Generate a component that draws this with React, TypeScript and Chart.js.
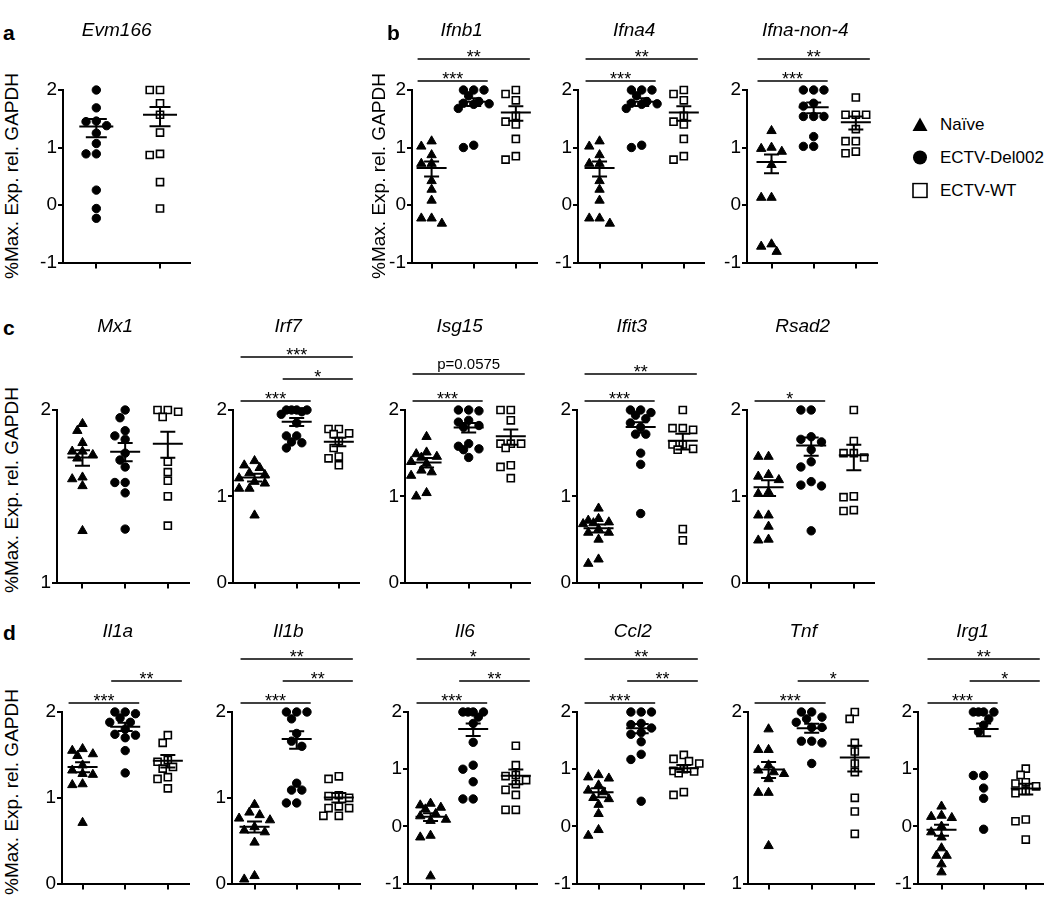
import React, { useEffect, useRef } from 'react';
import { Chart, registerables } from 'chart.js';

Chart.register(...registerables);

const FONT = "Arial, 'Liberation Sans', Helvetica, sans-serif";

// ---------- labels ----------
const groupNames = ['Naïve', 'ECTV-Del002', 'ECTV-WT'];
const yAxisTitle = '%Max. Exp. rel. GAPDH';
const ticksM1to2 = [-1, 0, 1, 2];
const ticks0to2 = [0, 1, 2];
const ticks1to2 = [1, 2];

// ---------- data (log10 of % max expression) ----------
const evm166Del = [2.0, 1.69, 1.46, 1.45, 1.38, 1.25, 1.07, 0.89, 0.89, 0.26, -0.06, -0.23];
const evm166WT = [2.0, 2.0, 1.77, 1.57, 1.26, 0.87, 0.89, 0.4, -0.06];

const ifnb1Naive = [1.11, 1.02, 0.87, 0.72, 0.72, 0.42, 0.27, 0.08, -0.23, -0.32, -0.23];
const ifnb1Del = [2.0, 2.0, 2.0, 1.9, 1.8, 1.77, 1.76, 1.75, 1.68, 1.0, 1.04];
const ifnb1WT = [1.93, 2.0, 1.82, 1.55, 1.4, 1.45, 1.15, 0.79, 0.85];

const ifna4Naive = [1.11, 1.02, 0.87, 0.72, 0.72, 0.42, 0.27, 0.08, -0.23, -0.32, -0.23];
const ifna4Del = [2.0, 2.0, 2.0, 1.9, 1.8, 1.77, 1.76, 1.75, 1.68, 1.0, 1.04];
const ifna4WT = [1.93, 2.0, 1.82, 1.55, 1.4, 1.45, 1.15, 0.79, 0.85];

const ifnaN4Naive = [1.29, 1.0, 0.98, 0.93, 0.7, 0.13, 0.13, -0.68, -0.81, -0.72];
const ifnaN4Del = [2.0, 2.0, 2.0, 1.77, 1.72, 1.54, 1.54, 1.54, 1.19, 1.02, 1.02];
const ifnaN4WT = [1.87, 1.57, 1.57, 1.57, 1.32, 1.11, 1.11, 0.9, 0.93];

const mx1Naive = [1.92, 1.88, 1.81, 1.76, 1.76, 1.74, 1.72, 1.6, 1.61, 1.56, 1.3];
const mx1Del = [2.0, 1.955, 1.88, 1.85, 1.83, 1.75, 1.71, 1.67, 1.58, 1.58, 1.52, 1.31];
const mx1WT = [2.0, 2.0, 1.99, 1.96, 1.7, 1.64, 1.59, 1.5, 1.33];

const irf7Naive = [1.41, 1.36, 1.33, 1.27, 1.25, 1.21, 1.17, 1.15, 1.09, 1.09, 0.78];
const irf7Del = [2.0, 2.0, 2.0, 2.0, 1.98, 1.95, 1.85, 1.7, 1.7, 1.63, 1.62, 1.56];
const irf7WT = [1.78, 1.78, 1.73, 1.72, 1.64, 1.56, 1.46, 1.44, 1.36];

const isg15Naive = [1.69, 1.51, 1.49, 1.46, 1.45, 1.4, 1.38, 1.3, 1.28, 1.24, 1.0, 1.04];
const isg15Del = [2.0, 2.0, 1.99, 1.88, 1.86, 1.82, 1.8, 1.61, 1.58, 1.55, 1.54, 1.45];
const isg15WT = [2.0, 2.0, 1.88, 1.61, 1.61, 1.61, 1.56, 1.36, 1.34, 1.21];

const ifit3Naive = [0.86, 0.74, 0.72, 0.7, 0.69, 0.68, 0.62, 0.58, 0.58, 0.5, 0.27, 0.22];
const ifit3Del = [2.0, 2.0, 1.97, 1.94, 1.9, 1.85, 1.8, 1.72, 1.72, 1.5, 1.37, 0.8];
const ifit3WT = [2.0, 1.79, 1.79, 1.77, 1.6, 1.6, 1.55, 1.54, 0.62, 0.49];

const rsad2Naive = [1.46, 1.46, 1.25, 1.23, 1.19, 1.05, 1.03, 0.78, 0.78, 0.65, 0.5, 0.49];
const rsad2Del = [2.0, 2.0, 1.69, 1.66, 1.63, 1.54, 1.4, 1.34, 1.17, 1.13, 1.12, 0.6];
const rsad2WT = [2.0, 1.64, 1.5, 1.5, 1.45, 1.0, 0.99, 0.83, 0.84];

const il1aNaive = [1.57, 1.55, 1.51, 1.49, 1.38, 1.32, 1.28, 1.27, 1.16, 1.15, 0.71];
const il1aDel = [2.0, 2.0, 1.98, 1.93, 1.88, 1.88, 1.8, 1.74, 1.73, 1.7, 1.55, 1.29];
const il1aWT = [1.73, 1.64, 1.44, 1.42, 1.36, 1.34, 1.24, 1.22, 1.11];

const il1bNaive = [0.92, 0.83, 0.8, 0.76, 0.74, 0.66, 0.62, 0.6, 0.48, 0.09, 0.05];
const il1bDel = [2.0, 2.0, 2.0, 1.92, 1.75, 1.66, 1.6, 1.17, 1.09, 1.09, 0.94, 0.94];
const il1bWT = [1.25, 1.22, 1.03, 1.02, 1.0, 0.9, 0.88, 0.88, 0.79, 0.79];

const il6Naive = [0.4, 0.37, 0.33, 0.3, 0.22, 0.18, 0.12, 0.1, -0.16, -0.19, -0.87];
const il6Del = [2.0, 2.0, 2.0, 2.0, 1.91, 1.8, 1.47, 1.07, 1.0, 0.78, 0.48, 0.48];
const il6WT = [1.41, 1.07, 0.9, 0.88, 0.81, 0.74, 0.64, 0.55, 0.29, 0.29];

const ccl2Naive = [0.9, 0.86, 0.84, 0.72, 0.63, 0.6, 0.5, 0.48, 0.38, 0.22, -0.06, -0.16];
const ccl2Del = [2.0, 2.0, 2.0, 1.8, 1.78, 1.72, 1.64, 1.61, 1.48, 1.26, 1.17, 0.44];
const ccl2WT = [1.25, 1.18, 1.14, 1.1, 1.0, 0.97, 0.96, 0.93, 0.6, 0.55];

const tnfNaive = [1.9, 1.78, 1.78, 1.69, 1.66, 1.65, 1.64, 1.61, 1.53, 1.53, 1.22];
const tnfDel = [2.0, 2.0, 1.97, 1.96, 1.94, 1.91, 1.91, 1.83, 1.82, 1.83, 1.7];
const tnfWT = [2.0, 1.96, 1.82, 1.77, 1.7, 1.65, 1.5, 1.42, 1.29];

const irg1Naive = [0.35, 0.19, 0.17, 0.15, 0.0, -0.1, -0.19, -0.38, -0.51, -0.51, -0.66, -0.8];
const irg1Del = [2.0, 2.0, 2.0, 2.0, 1.88, 1.77, 1.65, 0.89, 0.89, 0.67, 0.49, -0.05];
const irg1WT = [1.01, 0.9, 0.77, 0.75, 0.7, 0.62, 0.58, 0.12, 0.09, -0.23];

// ---------- significance annotations (group a vs group b, stacking level, label) ----------
const sigIfn = [
  { a: 1, b: 3, level: 1, label: '**' },
  { a: 1, b: 2, level: 0, label: '***' },
];
const sigIrf7 = [
  { a: 1, b: 3, level: 2, label: '***' },
  { a: 2, b: 3, level: 1, label: '*' },
  { a: 1, b: 2, level: 0, label: '***' },
];
const sigIsg15 = [
  { a: 1, b: 3, level: 1, label: 'p=0.0575' },
  { a: 1, b: 2, level: 0, label: '***' },
];
const sigIfit3 = [
  { a: 1, b: 3, level: 1, label: '**' },
  { a: 1, b: 2, level: 0, label: '***' },
];
const sigRsad2 = [{ a: 1, b: 2, level: 0, label: '*' }];
const sigIl1a = [
  { a: 2, b: 3, level: 1, label: '**' },
  { a: 1, b: 2, level: 0, label: '***' },
];
const sigIl1b = [
  { a: 1, b: 3, level: 2, label: '**' },
  { a: 2, b: 3, level: 1, label: '**' },
  { a: 1, b: 2, level: 0, label: '***' },
];
const sigIl6 = [
  { a: 1, b: 3, level: 2, label: '*' },
  { a: 2, b: 3, level: 1, label: '**' },
  { a: 1, b: 2, level: 0, label: '***' },
];
const sigCcl2 = [
  { a: 1, b: 3, level: 2, label: '**' },
  { a: 2, b: 3, level: 1, label: '**' },
  { a: 1, b: 2, level: 0, label: '***' },
];
const sigTnf = [
  { a: 2, b: 3, level: 1, label: '*' },
  { a: 1, b: 2, level: 0, label: '***' },
];
const sigIrg1 = [
  { a: 1, b: 3, level: 2, label: '**' },
  { a: 2, b: 3, level: 1, label: '*' },
  { a: 1, b: 2, level: 0, label: '***' },
];

// ---------- layout ----------
type Marker = 'triangle' | 'circle' | 'square';
const ROW_AB = { top: 90, bottom: 263, canvasTop: 8, titleY: 31 };
const ROW_C = { top: 410, bottom: 583, canvasTop: 305, titleY: 327 };
const ROW_D = { top: 712, bottom: 884, canvasTop: 612, titleY: 632 };
const Y_AXIS_W = 34;
const X_AXIS_H = 12;
const PAD_R = 4;
const HALF_STEP = 5.25;
const MAX_K = 3;
const DIAM = 8;
const LEVELS = [9, 31, 53];
const TRI: Marker[] = ['triangle', 'circle', 'square'];

const MARKERS: Record<Marker, any> = {
  triangle: { pointStyle: 'triangle', pointRadius: 5.4, pointBackgroundColor: '#000', pointBorderColor: '#000', pointBorderWidth: 1 },
  circle: { pointStyle: 'circle', pointRadius: 4.2, pointBackgroundColor: '#000', pointBorderColor: '#000', pointBorderWidth: 1 },
  square: { pointStyle: 'rect', pointRadius: 5.0, pointBackgroundColor: '#fff', pointBorderColor: '#000', pointBorderWidth: 1.6 },
};

const panels: any[] = [
  { title: 'Evm166', series: [evm166Del, evm166WT], markers: ['circle', 'square'], sigs: [], yTicks: ticksM1to2, row: ROW_AB, ax: 63, axR: 193, t1: 97, dt: 65, meanHalf: 17, capHalf: 10.5, titleDx: -10 },
  { title: 'Ifnb1', series: [ifnb1Naive, ifnb1Del, ifnb1WT], markers: TRI, sigs: sigIfn, yTicks: ticksM1to2, row: ROW_AB, ax: 412, axR: 540, t1: 432, dt: 43, titleDx: -13 },
  { title: 'Ifna4', series: [ifna4Naive, ifna4Del, ifna4WT], markers: TRI, sigs: sigIfn, yTicks: ticksM1to2, row: ROW_AB, ax: 578, axR: 707, t1: 600, dt: 43, titleDx: -7 },
  { title: 'Ifna-non-4', series: [ifnaN4Naive, ifnaN4Del, ifnaN4WT], markers: TRI, sigs: sigIfn, yTicks: ticksM1to2, row: ROW_AB, ax: 747, axR: 880, t1: 772, dt: 43, titleDx: -7 },
  { title: 'Mx1', series: [mx1Naive, mx1Del, mx1WT], markers: TRI, sigs: [], yTicks: ticks1to2, row: ROW_C, ax: 57, axR: 192, t1: 83, dt: 43.5 },
  { title: 'Irf7', series: [irf7Naive, irf7Del, irf7WT], markers: TRI, sigs: sigIrf7, yTicks: ticks0to2, row: ROW_C, ax: 233, axR: 362, t1: 255, dt: 43 },
  { title: 'Isg15', series: [isg15Naive, isg15Del, isg15WT], markers: TRI, sigs: sigIsg15, yTicks: ticks0to2, row: ROW_C, ax: 405, axR: 533, t1: 427, dt: 43, levels: [9, 36, 53] },
  { title: 'Ifit3', series: [ifit3Naive, ifit3Del, ifit3WT], markers: TRI, sigs: sigIfit3, yTicks: ticks0to2, row: ROW_C, ax: 577, axR: 705, t1: 599, dt: 43, levels: [9, 36, 53] },
  { title: 'Rsad2', series: [rsad2Naive, rsad2Del, rsad2WT], markers: TRI, sigs: sigRsad2, yTicks: ticks0to2, row: ROW_C, ax: 747, axR: 877, t1: 769, dt: 43.5 },
  { title: 'Il1a', series: [il1aNaive, il1aDel, il1aWT], markers: TRI, sigs: sigIl1a, yTicks: ticks0to2, row: ROW_D, ax: 62, axR: 192, t1: 83, dt: 43.5 },
  { title: 'Il1b', series: [il1bNaive, il1bDel, il1bWT], markers: TRI, sigs: sigIl1b, yTicks: ticks0to2, row: ROW_D, ax: 232, axR: 363, t1: 255, dt: 43 },
  { title: 'Il6', series: [il6Naive, il6Del, il6WT], markers: TRI, sigs: sigIl6, yTicks: ticksM1to2, row: ROW_D, ax: 408, axR: 540, t1: 431, dt: 43.5 },
  { title: 'Ccl2', series: [ccl2Naive, ccl2Del, ccl2WT], markers: TRI, sigs: sigCcl2, yTicks: ticksM1to2, row: ROW_D, ax: 577, axR: 707, t1: 599, dt: 43.5 },
  { title: 'Tnf', series: [tnfNaive, tnfDel, tnfWT], markers: TRI, sigs: sigTnf, yTicks: ticks1to2, row: ROW_D, ax: 748, axR: 877, t1: 769, dt: 44 },
  { title: 'Irg1', series: [irg1Naive, irg1Del, irg1WT], markers: TRI, sigs: sigIrg1, yTicks: ticksM1to2, row: ROW_D, ax: 918, axR: 1046, t1: 942, dt: 43 },
];

// beeswarm: spread points sideways (in half-marker steps, limited width) when they would overlap
function swarm(values: number[], ppu: number): number[] {
  const idx = values.map((_, i) => i).sort((i, j) => values[j] - values[i]);
  const offs = new Array(values.length).fill(0);
  const placed: { y: number; x: number }[] = [];
  const cands: number[] = [0];
  for (let k = 1; k <= MAX_K; k++) { cands.push(-k * HALF_STEP, k * HALF_STEP); }
  for (const id of idx) {
    const py = values[id] * ppu;
    let best = 0;
    let bestOverlap = Infinity;
    for (const c of cands) {
      let overlap = 0;
      for (const q of placed) {
        const d = Math.hypot(q.x - c, q.y - py);
        if (d < DIAM) overlap = Math.max(overlap, DIAM - d);
      }
      if (overlap < bestOverlap - 0.01) { bestOverlap = overlap; best = c; }
      if (overlap <= 0.01) break;
    }
    offs[id] = best;
    placed.push({ y: py, x: best });
  }
  return offs;
}

function geom(p: any) {
  const left = p.ax - Y_AXIS_W;
  const width = p.axR - p.ax + Y_AXIS_W + PAD_R;
  const height = p.row.bottom + X_AXIS_H - p.row.canvasTop;
  return { left, width, height, top: p.row.canvasTop };
}

function buildChart(canvas: HTMLCanvasElement, p: any) {
  const yMin = p.yTicks[0];
  const yMax = p.yTicks[p.yTicks.length - 1];
  const ppu = (p.row.bottom - p.row.top) / (yMax - yMin);
  const xMin = 1 - (p.t1 - p.ax) / p.dt;
  const xMax = 1 + (p.axR - p.t1) / p.dt;
  const levels = p.levels || LEVELS;
  const meanHalf = p.meanHalf || 15;
  const capHalf = p.capHalf || 7.5;
  const titleDx = p.titleDx === undefined ? -8 : p.titleDx;

  const datasets = p.series.map((vals: number[], gi: number) => {
    const offs = swarm(vals, ppu);
    return {
      label: groupNames[gi],
      data: vals.map((v, i) => ({ x: gi + 1 + offs[i] / p.dt, y: Math.pow(10, v) })),
      clip: false,
      showLine: false,
      ...MARKERS[p.markers[gi] as Marker],
    };
  });

  const decor = {
    id: 'decor',
    afterDatasetsDraw(chart: any) {
      const { ctx, chartArea } = chart;
      const xs = chart.scales.x;
      const ys = chart.scales.y;
      ctx.save();
      ctx.strokeStyle = '#000';
      ctx.fillStyle = '#000';
      ctx.lineCap = 'butt';
      // mean ± SEM (computed on linear values, drawn on the log axis)
      ctx.lineWidth = 2;
      p.series.forEach((vals: number[], gi: number) => {
        const raw = vals.map((v) => Math.pow(10, v));
        const n = raw.length;
        const mean = raw.reduce((s, r) => s + r, 0) / n;
        const sd = Math.sqrt(raw.reduce((s, r) => s + (r - mean) * (r - mean), 0) / (n - 1));
        const sem = sd / Math.sqrt(n);
        const cx = xs.getPixelForValue(gi + 1);
        const ym = ys.getPixelForValue(mean);
        const yt = ys.getPixelForValue(mean + sem);
        const yb = mean - sem > 0 ? ys.getPixelForValue(mean - sem) : chartArea.bottom;
        ctx.beginPath();
        ctx.moveTo(cx - meanHalf, ym); ctx.lineTo(cx + meanHalf, ym);
        ctx.moveTo(cx, yt); ctx.lineTo(cx, yb);
        ctx.moveTo(cx - capHalf, yt); ctx.lineTo(cx + capHalf, yt);
        ctx.moveTo(cx - capHalf, yb); ctx.lineTo(cx + capHalf, yb);
        ctx.stroke();
      });
      // significance bars
      ctx.lineWidth = 1.6;
      ctx.textAlign = 'center';
      ctx.textBaseline = 'alphabetic';
      p.sigs.forEach((s: any) => {
        const y0 = chartArea.top - levels[s.level];
        const x1 = xs.getPixelForValue(s.a) - 14;
        const x2 = xs.getPixelForValue(s.b) + 14;
        ctx.beginPath();
        ctx.moveTo(x1, y0); ctx.lineTo(x2, y0);
        ctx.stroke();
        if (s.label.startsWith('p')) {
          ctx.font = `15px ${FONT}`;
          ctx.fillText(s.label, (x1 + x2) / 2, y0 - 5);
        } else {
          ctx.font = `18px ${FONT}`;
          ctx.fillText(s.label, (x1 + x2) / 2, y0 + 4);
        }
      });
      // panel title
      ctx.font = `italic 19px ${FONT}`;
      ctx.textBaseline = 'middle';
      ctx.fillText(p.title, (chartArea.left + chartArea.right) / 2 + titleDx, p.row.titleY - p.row.canvasTop);
      ctx.restore();
    },
  };

  return new Chart(canvas, {
    type: 'scatter',
    data: { datasets },
    options: {
      animation: false,
      responsive: false,
      maintainAspectRatio: false,
      events: [],
      layout: { padding: { top: p.row.top - p.row.canvasTop, left: 0, right: PAD_R, bottom: 0 } },
      plugins: { legend: { display: false }, tooltip: { enabled: false }, title: { display: false } },
      scales: {
        x: {
          type: 'linear',
          min: xMin,
          max: xMax,
          afterFit: (s: any) => { s.height = X_AXIS_H; },
          afterBuildTicks: (s: any) => { s.ticks = p.series.map((_: any, i: number) => ({ value: i + 1 })); },
          ticks: { callback: () => '', autoSkip: false, padding: 0 },
          grid: { display: true, drawOnChartArea: false, drawTicks: true, tickLength: 6, color: '#000', lineWidth: 2 },
          border: { display: true, color: '#000', width: 2 },
        },
        y: {
          type: 'logarithmic',
          min: Math.pow(10, yMin),
          max: Math.pow(10, yMax),
          afterFit: (s: any) => { s.width = Y_AXIS_W; },
          afterBuildTicks: (s: any) => { s.ticks = p.yTicks.map((t: number) => ({ value: Math.pow(10, t) })); },
          ticks: {
            callback: (v: any) => String(Math.round(Math.log10(Number(v)))),
            font: { size: 19, family: FONT },
            color: '#000',
            padding: 1,
            autoSkip: false,
          },
          grid: { display: true, drawOnChartArea: false, drawTicks: true, tickLength: 5, color: '#000', lineWidth: 2 },
          border: { display: true, color: '#000', width: 2 },
        },
      },
    },
    plugins: [decor],
  } as any);
}

function Panel({ spec }: { spec: any }) {
  const ref = useRef<HTMLCanvasElement>(null);
  const g = geom(spec);
  useEffect(() => {
    const chart = buildChart(ref.current as HTMLCanvasElement, spec);
    return () => chart.destroy();
  }, []);
  return (
    <canvas
      ref={ref}
      width={g.width}
      height={g.height}
      style={{ position: 'absolute', left: g.left, top: g.top, width: g.width, height: g.height }}
    />
  );
}

function YLabel({ cx, cy }: { cx: number; cy: number }) {
  return (
    <div
      style={{
        position: 'absolute', left: cx, top: cy, transform: 'translate(-50%, -50%) rotate(-90deg)',
        whiteSpace: 'nowrap', fontFamily: FONT, fontSize: 19, lineHeight: 1, color: '#000',
      }}
    >
      {yAxisTitle}
    </div>
  );
}

function Letter({ x, cy, t }: { x: number; cy: number; t: string }) {
  return (
    <div style={{ position: 'absolute', left: x, top: cy, transform: 'translateY(-50%)', fontFamily: FONT, fontWeight: 'bold', fontSize: 21, lineHeight: 1 }}>
      {t}
    </div>
  );
}

function Legend() {
  const rows = [124, 157, 190];
  const shapes = [
    <svg width="16" height="16" key="t"><polygon points="8,1 15.5,14.5 0.5,14.5" fill="#000" /></svg>,
    <svg width="16" height="16" key="c"><circle cx="8" cy="8" r="7" fill="#000" /></svg>,
    <svg width="16" height="16" key="s"><rect x="1" y="1" width="14" height="14" fill="#fff" stroke="#000" strokeWidth="1.6" /></svg>,
  ];
  return (
    <>
      {groupNames.map((n, i) => (
        <div key={n} style={{ position: 'absolute', left: 912, top: rows[i], transform: 'translateY(-50%)', display: 'flex', alignItems: 'center', fontFamily: FONT, fontSize: 17, lineHeight: 1, whiteSpace: 'nowrap' }}>
          {shapes[i]}
          <span style={{ marginLeft: 12 }}>{n}</span>
        </div>
      ))}
    </>
  );
}

export default function App() {
  return (
    <div style={{ position: 'absolute', left: 0, top: 0, width: 1050, height: 897, overflow: 'hidden', background: '#fff' }}>
      {panels.map((p) => <Panel key={p.title} spec={p} />)}
      <Letter x={3} cy={32} t="a" />
      <Letter x={387} cy={32} t="b" />
      <Letter x={3} cy={327} t="c" />
      <Letter x={3} cy={632} t="d" />
      <YLabel cx={11} cy={176} />
      <YLabel cx={378} cy={176} />
      <YLabel cx={11} cy={490} />
      <YLabel cx={11} cy={792} />
      <Legend />
    </div>
  );
}
